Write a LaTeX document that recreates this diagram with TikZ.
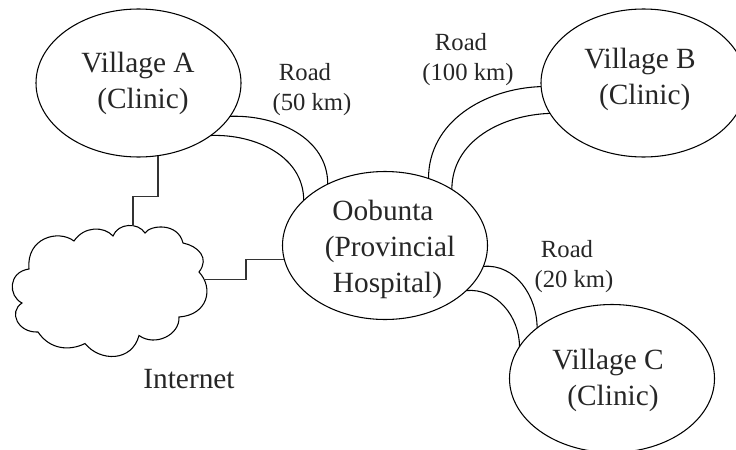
\documentclass[tikz,border=0pt]{standalone}
\usepackage{fontspec}
\setmainfont{Liberation Serif}
\usetikzlibrary{shapes.geometric}
\tikzset{
  place/.style={draw=black,line width=0.8pt,ellipse,inner sep=0pt,outer sep=0pt,minimum width=153.75pt,minimum height=111pt},
  big/.style={align=center,text=black!85,inner sep=0pt,font=\fontsize{22}{27}\selectfont},
  roadlabel/.style={align=center,text=black!85,inner sep=0pt,font=\fontsize{18.5}{22.5}\selectfont},
  road/.style={draw=black,line width=0.8pt},
  wire/.style={draw=black!80,line width=0.9pt},
  cloudline/.style={draw=black,line width=0.8pt,fill=white}
}
\begin{document}
\begin{tikzpicture}[x=0.75pt,y=-0.75pt]
\useasboundingbox (0,0) rectangle (736,450);
\clip (0,0) rectangle (736,450);
% places
\node[place] (A) at (138.5,83) {};
\node[place] (B) at (643.5,83) {};
\node[place] (O) at (385,245.5) {};
\node[place] (C) at (612,378.5) {};
% cloud
\draw[cloudline] (145,233)
  .. controls (150,225) and (178,222) .. (183,243)
  .. controls (198,246) and (210,258) .. (199,272)
  .. controls (214,288) and (208,315) .. (179,317)
  .. controls (180,335) and (155,347) .. (139,335.5)
  .. controls (132,362) and (100,362) .. (85,343.5)
  .. controls (70,351) and (50,350) .. (38,332)
  .. controls (18,333) and (8,312) .. (22,303)
  .. controls (8,296) and (8,272) .. (29,269)
  .. controls (26,238) and (58,229) .. (74,241)
  .. controls (84,226) and (104,226) .. (113,236)
  .. controls (118,223) and (138,222) .. (145,233) -- cycle;
\coordinate (cloudtop) at (133,226);
\coordinate (cloudright) at (204,279.5);
% roads
\draw[road] (A.-20.2) to[out=2,in=90] (O.133.3);
\draw[road] (A.-36.3) to[out=2,in=90] (O.151);
\draw[road] (O.57.2) to[out=90,in=182] (B.182.2);
\draw[road] (O.40.3) to[out=90,in=182] (B.198.5);
\draw[road] (O.-12.2) to[out=5,in=90] (C.146.9);
\draw[road] (O.-29.2) to[out=5,in=90] (C.161.1);
% wires
\draw[wire] (A.-75.7) -- ++(0,41) -| (cloudtop);
\draw[wire] (cloudright) -- ++(42,0) |- (O.188.8);
% texts
\node[big] (Atext) at (138,83) {Village A\\\hspace*{7.5pt}(Clinic)};
\node[big] (Btext) at (640,79) {Village B\\\hspace*{7pt}(Clinic)};
\node[big] (Otext) at (383,249) {Oobunta\\\hspace*{10.5pt}(Provincial\\\hspace*{6.75pt}Hospital)};
\node[big] (Ctext) at (608,380) {Village C\\\hspace*{7.5pt}(Clinic)};
\node[big] (Itext) at (189,379) {Internet};
\node[roadlabel] (r1) at (305,90) {Road\\\hspace*{10.5pt}(50 km)};
\node[roadlabel] (r2) at (461,60) {Road\\\hspace*{10.5pt}(100 km)};
\node[roadlabel] (r3) at (567,267) {Road\\\hspace*{10.5pt}(20 km)};
\end{tikzpicture}
\end{document}
